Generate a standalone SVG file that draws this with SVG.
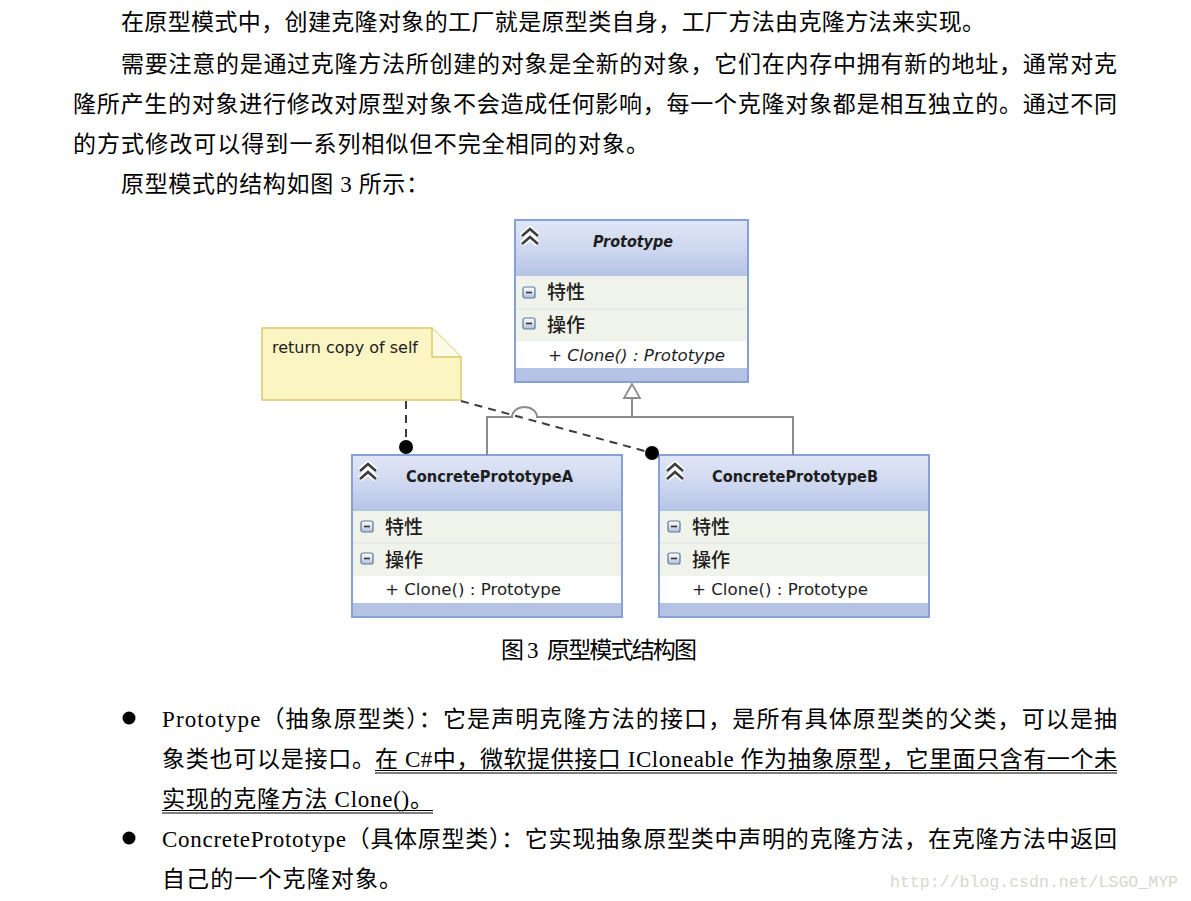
<svg xmlns="http://www.w3.org/2000/svg" xmlns:xlink="http://www.w3.org/1999/xlink" width="1191" height="901" viewBox="0 0 1191 901">
<style>
.body{font-family:"Liberation Serif","Noto Sans CJK SC",serif;font-size:23px;fill:#000}
.uml{font-family:"DejaVu Sans","Noto Sans CJK SC",sans-serif;fill:#1e1e1e}
.ttl{font-weight:bold;font-size:16px}
.cjk{font-family:"Noto Sans CJK SC",sans-serif;font-size:19px;font-weight:500;fill:#1e1e1e}
.meth{font-size:16px}
.box{fill:#f0f3ea;stroke:#86a2d4;stroke-width:2}
.sep{stroke:#dde3ea;stroke-width:1}
.band{fill:#b4c2e3}
.dash{fill:none;stroke:#3c3c3c;stroke-width:2;stroke-dasharray:8 6}
.inh{fill:none;stroke:#8c8c8c;stroke-width:2}
.ul{stroke:#000;stroke-width:1.1}
</style>
<defs>
<linearGradient id="hdr" x1="0" y1="0" x2="0" y2="1">
<stop offset="0" stop-color="#e0e6f6"/>
<stop offset="0.55" stop-color="#ccd6ef"/>
<stop offset="1" stop-color="#b4c3e5"/>
</linearGradient>
<linearGradient id="mg" x1="0" y1="0" x2="0" y2="1">
<stop offset="0" stop-color="#ffffff"/>
<stop offset="1" stop-color="#b3c0d4"/>
</linearGradient>
<g id="minus">
<rect x="0" y="0" width="12" height="11" rx="2" fill="url(#mg)" stroke="#5a76a3" stroke-width="1.2"/>
<line x1="3" y1="5.5" x2="9" y2="5.5" stroke="#333" stroke-width="1.6"/>
</g>
<g id="chev">
<path d="M-8,-1 L0,-8 L8,-1 M-8,7 L0,0 L8,7" fill="none" stroke="#fff" stroke-width="6" stroke-linejoin="round"/>
<path d="M-8,-1 L0,-8 L8,-1 M-8,7 L0,0 L8,7" fill="none" stroke="#3d3d3d" stroke-width="2.6"/>
</g>
</defs>
<rect x="0" y="0" width="1191" height="901" fill="#fff"/>

<g id="top-text">
<text class="body" x="121" y="30" textLength="864" lengthAdjust="spacing">在原型模式中，创建克隆对象的工厂就是原型类自身，工厂方法由克隆方法来实现。</text>
<text class="body" x="121" y="72" textLength="996" lengthAdjust="spacing">需要注意的是通过克隆方法所创建的对象是全新的对象，它们在内存中拥有新的地址，通常对克</text>
<text class="body" x="73" y="112" textLength="1044" lengthAdjust="spacing">隆所产生的对象进行修改对原型对象不会造成任何影响，每一个克隆对象都是相互独立的。通过不同</text>
<text class="body" x="73" y="152" textLength="576" lengthAdjust="spacing">的方式修改可以得到一系列相似但不完全相同的对象。</text>
<text class="body" x="121" y="192" textLength="308" lengthAdjust="spacing">原型模式的结构如图 3 所示：</text>
</g>

<g id="note">
<path d="M262,328 L432,328 L461,357 L461,400 L262,400 Z" fill="#fbf5c4" stroke="#d9c96c" stroke-width="1.5"/>
<path d="M432,328 L432,357 L461,357" fill="#fdfbe6" stroke="#d9c96c" stroke-width="1.5"/>
<text class="uml" x="272" y="353" font-size="15" textLength="146" lengthAdjust="spacingAndGlyphs" fill="#333">return copy of self</text>
</g>

<g id="prototype">
<rect class="box" x="515" y="220" width="233" height="162"/>
<rect x="516" y="221" width="231" height="55" fill="url(#hdr)"/>
<line class="sep" x1="516" y1="309" x2="747" y2="309"/>
<rect x="516" y="341" width="231" height="27" fill="#fff"/>
<rect class="band" x="516" y="368" width="231" height="13"/>
<use href="#chev" x="530" y="237"/>
<text class="uml ttl" x="593" y="247" font-style="italic" textLength="80" lengthAdjust="spacingAndGlyphs">Prototype</text>
<use href="#minus" x="523" y="287"/>
<text class="cjk" x="547" y="299">特性</text>
<use href="#minus" x="523" y="318"/>
<text class="cjk" x="547" y="332">操作</text>
<text class="uml meth" x="548" y="361" font-style="italic" textLength="177" lengthAdjust="spacingAndGlyphs">+ Clone() : Prototype</text>
</g>

<g id="concreteA">
<rect class="box" x="352" y="455" width="270" height="162"/>
<rect x="353" y="456" width="268" height="55" fill="url(#hdr)"/>
<line class="sep" x1="353" y1="543" x2="621" y2="543"/>
<rect x="353" y="576" width="268" height="27" fill="#fff"/>
<rect class="band" x="353" y="603" width="268" height="13"/>
<use href="#chev" x="368" y="472"/>
<text class="uml ttl" x="406" y="482" textLength="167" lengthAdjust="spacingAndGlyphs">ConcretePrototypeA</text>
<use href="#minus" x="361" y="521"/>
<text class="cjk" x="385" y="534">特性</text>
<use href="#minus" x="361" y="553"/>
<text class="cjk" x="385" y="567">操作</text>
<text class="uml meth" x="385" y="595" textLength="176" lengthAdjust="spacingAndGlyphs">+ Clone() : Prototype</text>
</g>

<g id="concreteB">
<rect class="box" x="659" y="455" width="270" height="162"/>
<rect x="660" y="456" width="268" height="55" fill="url(#hdr)"/>
<line class="sep" x1="660" y1="543" x2="928" y2="543"/>
<rect x="660" y="576" width="268" height="27" fill="#fff"/>
<rect class="band" x="660" y="603" width="268" height="13"/>
<use href="#chev" x="675" y="472"/>
<text class="uml ttl" x="712" y="482" textLength="166" lengthAdjust="spacingAndGlyphs">ConcretePrototypeB</text>
<use href="#minus" x="668" y="521"/>
<text class="cjk" x="692" y="534">特性</text>
<use href="#minus" x="668" y="553"/>
<text class="cjk" x="692" y="567">操作</text>
<text class="uml meth" x="692" y="595" textLength="176" lengthAdjust="spacingAndGlyphs">+ Clone() : Prototype</text>
</g>

<g id="connectors">
<path class="inh" d="M487,455 L487,417 L512,417 A12.5,10 0 0 1 537,417 L793,417 L793,455"/>
<path class="inh" d="M632,417 L632,398"/>
<polygon points="632,384 624,398 640,398" fill="#fff" stroke="#8c8c8c" stroke-width="1.8"/>
<path class="dash" d="M406,401 L406,447"/>
<circle cx="406" cy="447" r="7" fill="#000"/>
<path class="dash" d="M461,401 L652,453"/>
<circle cx="652" cy="453" r="7" fill="#000"/>
</g>

<g id="caption">
<text class="body" font-size="18" y="658"><tspan x="501">图</tspan><tspan x="527">3</tspan><tspan x="547" textLength="150" lengthAdjust="spacing">原型模式结构图</tspan></text>
</g>

<g id="bullets">
<circle cx="129" cy="718" r="6.5" fill="#000"/>
<text class="body" x="162" y="727" textLength="955" lengthAdjust="spacing">Prototype（抽象原型类）：它是声明克隆方法的接口，是所有具体原型类的父类，可以是抽</text>
<text class="body" x="162" y="767" textLength="213" lengthAdjust="spacing">象类也可以是接口。</text>
<text class="body" x="375" y="767" textLength="742" lengthAdjust="spacing">在 C#中，微软提供接口 ICloneable 作为抽象原型，它里面只含有一个未</text>
<line class="ul" x1="375" y1="770.5" x2="1117" y2="770.5"/>
<line class="ul" x1="375" y1="773" x2="1117" y2="773"/>
<text class="body" x="162" y="807" textLength="271" lengthAdjust="spacing">实现的克隆方法 Clone()。</text>
<line class="ul" x1="162" y1="810.5" x2="433" y2="810.5"/>
<line class="ul" x1="162" y1="813" x2="433" y2="813"/>
<circle cx="129" cy="838" r="6.5" fill="#000"/>
<text class="body" x="162" y="847" textLength="955" lengthAdjust="spacing">ConcretePrototype（具体原型类）：它实现抽象原型类中声明的克隆方法，在克隆方法中返回</text>
<text class="body" x="162" y="887" textLength="240" lengthAdjust="spacing">自己的一个克隆对象。</text>
</g>

<text x="890" y="887" font-family="Liberation Mono, monospace" font-size="16.5" fill="#d6d6ce" textLength="288" lengthAdjust="spacingAndGlyphs">http://blog.csdn.net/LSGO_MYP</text>
</svg>
